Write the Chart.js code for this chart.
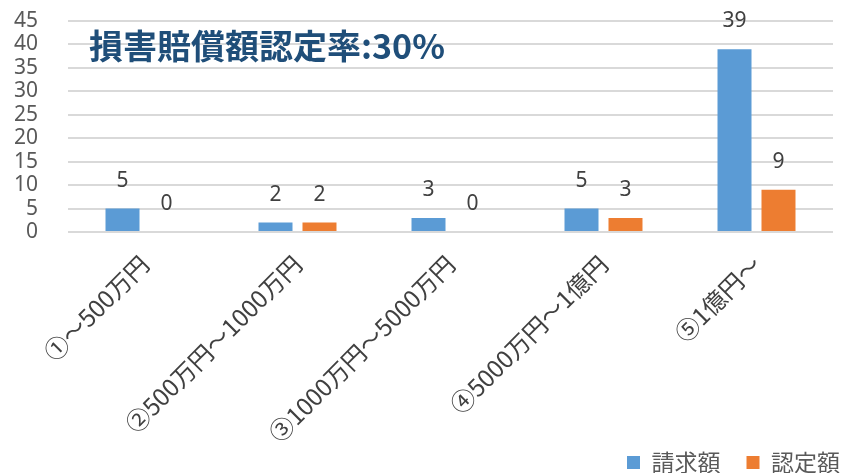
<!DOCTYPE html>
<html><head><meta charset="utf-8">
<script src="https://cdn.jsdelivr.net/npm/chart.js@4/dist/chart.umd.min.js"></script>
<style>html,body{margin:0;padding:0;background:#fff}#wrap{width:847px;height:473px}</style>
</head><body><div id="wrap"><canvas id="c" width="847" height="473"></canvas></div>
<script>
const categories = ["①～500万円","②500万円～1000万円","③1000万円～5000万円","④5000万円～1億円","⑤1億円～"];
const claimed = [5, 2, 3, 5, 39];
const approved = [0, 2, 0, 3, 9];
const seriesNames = ["請求額", "認定額"];
const titleText = "損害賠償額認定率:30%";
const FONT = "'Noto Sans CJK JP', 'Noto Sans', sans-serif";
const NUMFONT = "'Noto Sans', 'Noto Sans CJK JP', sans-serif";

const labelPlugin = {
  id: 'labels',
  afterLayout(chart) {
    const lg = chart.legend;
    if (lg) { lg.left += 19; lg.right += 19; lg.top += 11; lg.bottom += 11; }
  },
  afterDatasetsDraw(chart) {
    const ctx = chart.ctx;
    ctx.save();
    ctx.font = "21px " + NUMFONT;
    ctx.fillStyle = "#404040";
    ctx.textAlign = "center";
    ctx.textBaseline = "middle";
    chart.data.datasets.forEach((ds, i) => {
      chart.getDatasetMeta(i).data.forEach((bar, j) => {
        ctx.fillText(String(ds.data[j]), bar.x, bar.y - 28);
      });
    });
    ctx.font = "bold 34px " + FONT;
    ctx.fillStyle = "#1F4E79";
    ctx.textAlign = "left";
    ctx.fillText(titleText, 89, 46);
    ctx.restore();
  }
};

new Chart(document.getElementById('c'), {
  type: 'bar',
  data: {
    labels: categories,
    datasets: [
      {label: seriesNames[0], data: claimed, backgroundColor: '#5B9BD5', categoryPercentage: 0.575, barPercentage: 0.773},
      {label: seriesNames[1], data: approved, backgroundColor: '#ED7D31', categoryPercentage: 0.575, barPercentage: 0.773}
    ]
  },
  options: {
    responsive: false,
    animation: false,
    layout: {padding: {left: 10, right: 0, top: 21, bottom: 0}},
    plugins: {
      tooltip: {enabled: false},
      legend: {
        position: 'bottom', align: 'end',
        labels: {boxWidth: 13, boxHeight: 13, font: {size: 23, family: FONT}, color: '#595959', padding: 26}
      }
    },
    scales: {
      x: {
        grid: {display: false},
        border: {display: false},
        ticks: {maxRotation: 45, minRotation: 45, font: {size: 24, family: FONT}, color: '#404040', padding: 10, autoSkip: false},
        afterFit(s) { s.paddingLeft = 0; s.paddingRight = 14; s.height = 182; s._computeLabelArea = function () { return undefined; }; }
      },
      y: {
        min: 0, max: 45,
        grid: {color: '#d9d9d9', lineWidth: 2, drawTicks: false},
        border: {display: false},
        ticks: {stepSize: 5, autoSkip: false, font: {size: 21, family: NUMFONT}, color: '#595959', padding: 30},
        afterFit(s) { s.width = 58; s.paddingTop = 0; s.paddingBottom = 0; }
      }
    }
  },
  plugins: [labelPlugin]
});
</script></body></html>
